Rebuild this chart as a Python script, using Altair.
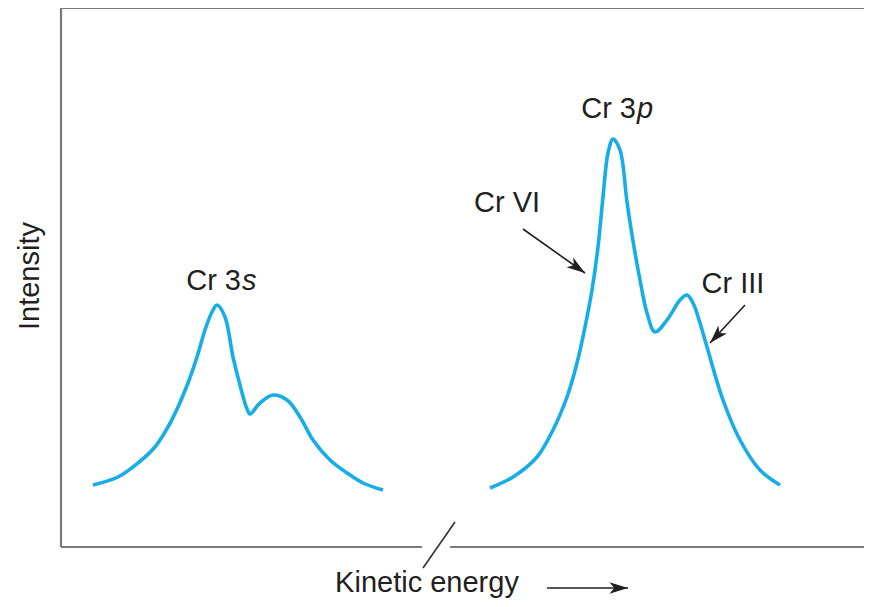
import altair as alt
import pandas as pd

# values (energy and intensity in arbitrary units)
s_energy = [32, 57, 77, 94, 107, 117, 127, 136, 144, 151, 156, 164, 172, 180, 186, 189,
            199, 212, 226, 239, 252, 269, 286, 302, 322]
s_intensity = [62, 70, 84, 100, 120, 140, 164, 190, 217, 235, 242, 230, 190, 158, 138, 133,
               144, 152, 147, 130, 107, 87, 74, 64, 57]

p_energy = [429, 452, 476, 492, 506, 516, 524, 531, 537, 542, 547, 552, 559, 566, 572, 579,
            586, 594, 606, 619, 626, 632, 639, 646, 662, 679, 699, 719]
p_intensity = [59, 70, 90, 117, 150, 184, 220, 257, 300, 350, 394, 408, 397, 345, 306, 267,
               234, 215, 227, 247, 252, 244, 224, 200, 147, 107, 77, 62]

# "Cr 3" + italic orbital letter
peak_text = ["Cr 3", "Cr 3"]
orbital_text = ["s", "p"]
peak_x = [180, 575]
peak_y = [257, 429]

label_text = ["Cr VI", "Cr III", "Kinetic energy"]
label_x = [446, 672, 366]
label_y = [335, 254, -45]

arrow_x = [462, 684, 486]
arrow_y = [318, 242, -41]
arrow_x2 = [524, 649, 567]
arrow_y2 = [274, 204, -41]
arrow_angle = [125, 223, 90]

frame_x = [0, 0, 0, 389, 362]
frame_y = [0, 539, 0, 0, -21]
frame_x2 = [0, 803, 361, 803, 394]
frame_y2 = [540, 539, 0, 0, 25]
frame_kind = ["box", "box", "box", "box", "break"]

BLUE = "#17ade8"
INK = "#231f20"
FONT = "Liberation Sans"

xs = alt.Scale(domain=[0, 803], nice=False)
ys = alt.Scale(domain=[0, 539], nice=False)

curves = pd.DataFrame({
    "energy": s_energy + p_energy,
    "intensity": s_intensity + p_intensity,
    "peak": ["3s"] * len(s_energy) + ["3p"] * len(p_energy),
})
peaks = pd.DataFrame({"t": peak_text, "o": orbital_text, "x": peak_x, "y": peak_y})
labels = pd.DataFrame({"t": label_text, "x": label_x, "y": label_y})
arrows = pd.DataFrame({"x": arrow_x, "y": arrow_y, "x2": arrow_x2, "y2": arrow_y2, "angle": arrow_angle})
frame = pd.DataFrame({"x": frame_x, "y": frame_y, "x2": frame_x2, "y2": frame_y2, "kind": frame_kind})

X = alt.X("x:Q", scale=xs, axis=None)
Y = alt.Y("y:Q", scale=ys, axis=None)

frame_layer = alt.Chart(frame).mark_rule(strokeCap="butt").encode(
    x=X, y=Y, x2="x2:Q", y2="y2:Q",
    color=alt.Color("kind:N", scale=alt.Scale(domain=["box", "break"], range=["#7a7a7a", "#333333"]), legend=None),
    strokeWidth=alt.StrokeWidth("kind:N", scale=alt.Scale(domain=["box", "break"], range=[2.2, 1.6]), legend=None),
)

curve_layer = alt.Chart(curves).mark_line(
    color=BLUE, strokeWidth=3.6, interpolate="catmull-rom"
).encode(
    x=alt.X("energy:Q", scale=xs, axis=None),
    y=alt.Y("intensity:Q", scale=ys, axis=None),
    detail="peak:N",
)

arrow_lines = alt.Chart(arrows).mark_rule(color=INK, strokeWidth=1.6).encode(
    x=X, y=Y, x2="x2:Q", y2="y2:Q",
)

arrow_heads = alt.Chart(arrows).mark_point(
    shape="M0,0 L0.6,1.9 L0,1.4 L-0.6,1.9 Z",
    filled=True, color=INK, opacity=1, size=380,
).encode(
    x=alt.X("x2:Q", scale=xs, axis=None),
    y=alt.Y("y2:Q", scale=ys, axis=None),
    angle=alt.Angle("angle:Q", scale=None),
)

text_style = dict(font=FONT, fontSize=29, color=INK, baseline="alphabetic")

peak_layer = alt.Chart(peaks).mark_text(align="right", **text_style).encode(
    x=X, y=Y, text="t:N",
)
orbital_layer = alt.Chart(peaks).mark_text(align="left", fontStyle="italic", dx=1, **text_style).encode(
    x=X, y=Y, text="o:N",
)
label_layer = alt.Chart(labels).mark_text(align="center", **text_style).encode(
    x=X, y=Y, text="t:N",
)

y_title = alt.Chart(pd.DataFrame({"t": ["Intensity"], "x": [-22], "y": [271]})).mark_text(
    angle=270, align="center", **text_style
).encode(
    x=X, y=Y, text="t:N",
)

chart = alt.layer(
    frame_layer, curve_layer, arrow_lines, arrow_heads,
    peak_layer, orbital_layer, label_layer, y_title
).properties(
    width=803,
    height=539,
    autosize=alt.AutoSizeParams(type="none"),
    padding={"left": 53, "top": 0, "right": 0, "bottom": 51},
).configure_view(
    stroke=None
)

chart.save("out.html", embed_options={"renderer": "svg", "actions": False})
